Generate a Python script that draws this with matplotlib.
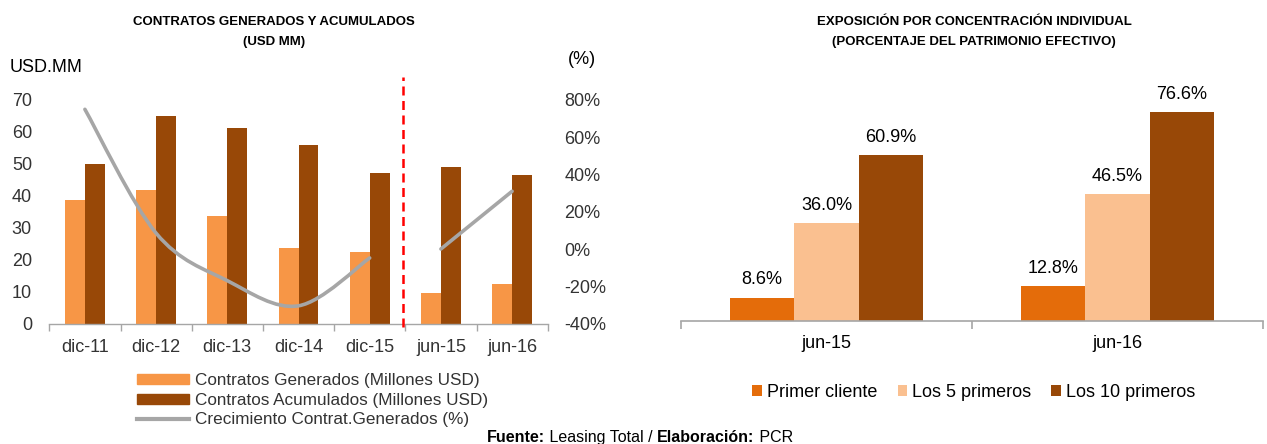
import matplotlib
matplotlib.use('Agg')
import matplotlib.pyplot as plt
from matplotlib.path import Path
from matplotlib.patches import PathPatch, Patch
from matplotlib.lines import Line2D
from matplotlib.ticker import FixedLocator, FuncFormatter

plt.rcParams['font.family'] = ['Liberation Sans', 'DejaVu Sans']

# left chart data
periods = ['dic-11', 'dic-12', 'dic-13', 'dic-14', 'dic-15', 'jun-15', 'jun-16']
generados = [38.6, 41.9, 33.8, 23.5, 22.3, 9.6, 12.4]
acumulados = [49.9, 65.1, 61.2, 55.8, 47.1, 49.1, 46.4]
crec_dic = [75.0, 8.5, -17.0, -30.5, -4.8]
crec_jun = [0.0, 31.0]

# right chart data
fechas = ['jun-15', 'jun-16']
primer_cliente = [8.6, 12.8]
cinco_primeros = [36.0, 46.5]
diez_primeros = [60.9, 76.6]

c_gen = '#F79646'
c_acu = '#984807'
c_line = '#A6A6A6'
c_axis = '#A6A6A6'
c_txt = '#333333'


def smooth_path(xs, ys):
    # excel-like smoothed line (cubic bezier through the points)
    pts = list(zip(xs, ys))
    n = len(pts)
    verts = [pts[0]]
    codes = [Path.MOVETO]
    for i in range(n - 1):
        p0 = pts[i - 1] if i > 0 else pts[i]
        p1, p2 = pts[i], pts[i + 1]
        p3 = pts[i + 2] if i + 2 < n else pts[i + 1]
        c1 = (p1[0] + (p2[0] - p0[0]) / 6, p1[1] + (p2[1] - p0[1]) / 6)
        c2 = (p2[0] - (p3[0] - p1[0]) / 6, p2[1] - (p3[1] - p1[1]) / 6)
        verts += [c1, c2, p2]
        codes += [Path.CURVE4] * 3
    return Path(verts, codes)


W, H = 1267, 444
fig = plt.figure(figsize=(W / 100, H / 100), dpi=100)

# ---------------- left chart ----------------
ax1 = fig.add_axes([49.3 / W, (H - 323.5) / H, (547.7 - 49.3) / W, 223.5 / H])
x = list(range(len(periods)))
bw = 0.28
ax1.bar([i - bw / 2 for i in x], generados, bw, color=c_gen, zorder=2)
ax1.bar([i + bw / 2 for i in x], acumulados, bw, color=c_acu, zorder=2)
ax1.set_xlim(-0.5, len(periods) - 0.5)
ax1.set_ylim(0, 70)
ax1.set_yticks(range(0, 71, 10))
ax1.set_xticks(x)
ax1.set_xticklabels(periods)
ax1.xaxis.set_minor_locator(FixedLocator([i - 0.5 for i in range(len(periods) + 1)]))
ax1.tick_params(axis='x', which='major', length=0, pad=11, labelsize=13, labelcolor=c_txt)
ax1.tick_params(axis='x', which='minor', length=5, color=c_axis, width=1)
ax1.tick_params(axis='y', length=0, pad=12.5, labelsize=13, labelcolor=c_txt)
for s in ['top', 'left', 'right']:
    ax1.spines[s].set_visible(False)
ax1.spines['bottom'].set_color(c_axis)
ax1.spines['bottom'].set_linewidth(1)

ax2 = ax1.twinx()
ax2.set_ylim(-40, 80)
ax2.set_yticks(range(-40, 81, 20))
ax2.yaxis.set_major_formatter(FuncFormatter(lambda v, p: f'{int(v)}%'))
ax2.tick_params(axis='y', length=0, pad=12, labelsize=13, labelcolor=c_txt)
for s in ax2.spines.values():
    s.set_visible(False)
ax2.add_patch(PathPatch(smooth_path(x[:5], crec_dic), fill=False, edgecolor=c_line,
                        lw=2.6, capstyle='round', zorder=3))
ax2.add_patch(PathPatch(smooth_path(x[5:], crec_jun), fill=False, edgecolor=c_line,
                        lw=2.6, capstyle='round', zorder=3))

# red dashed separator
ax1.plot([4.47, 4.47], [-0.014, 1.104], color='#FF0000', lw=1.8, ls=(0, (3.6, 2.2)),
         transform=ax1.get_xaxis_transform(), clip_on=False, zorder=4)

fig.text(10 / W, (H - 68) / H, 'USD.MM', fontsize=13, color='black', ha='left', va='center')
fig.text(582 / W, (H - 60) / H, '(%)', fontsize=13, color='black', ha='center', va='center')
fig.text(274 / W, (H - 16) / H, 'CONTRATOS GENERADOS Y ACUMULADOS\n(USD MM)', fontsize=9.5,
         fontweight='bold', ha='center', va='top', linespacing=1.85)

handles = [Patch(color=c_gen), Patch(color=c_acu), Line2D([], [], color=c_line, lw=3)]
labels = ['Contratos Generados (Millones USD)', 'Contratos Acumulados (Millones USD)',
          'Crecimiento Contrat.Generados (%)']
fig.legend(handles, labels, loc='upper left', bbox_to_anchor=(137 / W, (H - 373) / H),
           frameon=False, fontsize=12.3, handlelength=3.05, handleheight=0.53,
           handletextpad=0.33, labelspacing=0.27, borderpad=0, borderaxespad=0,
           labelcolor=c_txt)

# ---------------- right chart ----------------
ax3 = fig.add_axes([681 / W, (H - 321) / H, (1263 - 681) / W, 218.4 / H])
xr = list(range(len(fechas)))
bw2 = 0.222
series = [(primer_cliente, '#E46C0A', 'Primer cliente'),
          (cinco_primeros, '#FAC090', 'Los 5 primeros'),
          (diez_primeros, '#984807', 'Los 10 primeros')]
for k, (vals, col, lab) in enumerate(series):
    pos = [i + (k - 1) * bw2 for i in xr]
    bars = ax3.bar(pos, vals, bw2, color=col, label=lab, zorder=2)
    for b, v in zip(bars, vals):
        ax3.annotate(f'{v:.1f}%', (b.get_x() + b.get_width() / 2, v), xytext=(0, 6.5),
                     textcoords='offset points', ha='center', va='bottom', fontsize=13)
ax3.set_xlim(-0.5, len(fechas) - 0.5)
ax3.set_ylim(0, 80)
ax3.set_yticks([])
ax3.set_xticks(xr)
ax3.set_xticklabels(fechas)
ax3.xaxis.set_minor_locator(FixedLocator([-0.5, 0.5, 1.5]))
ax3.tick_params(axis='x', which='major', length=0, pad=10, labelsize=13)
ax3.tick_params(axis='x', which='minor', length=6, color=c_axis, width=1.2)
for s in ['top', 'left', 'right']:
    ax3.spines[s].set_visible(False)
ax3.spines['bottom'].set_color(c_axis)
ax3.spines['bottom'].set_linewidth(1.2)

fig.legend(*ax3.get_legend_handles_labels(), loc='center', ncol=3,
           bbox_to_anchor=(974 / W, (H - 392) / H), frameon=False, fontsize=13,
           handlelength=0.55, handleheight=0.55, handletextpad=0.28, columnspacing=1.1,
           borderpad=0, borderaxespad=0)

fig.text(974 / W, (H - 16) / H, 'EXPOSICIÓN POR CONCENTRACIÓN INDIVIDUAL\n(PORCENTAJE DEL PATRIMONIO EFECTIVO)',
         fontsize=9.5, fontweight='bold', ha='center', va='top', linespacing=1.85)

# ---------------- source line ----------------
renderer = fig.canvas.get_renderer()
parts = [('Fuente:', 'bold'), (' Leasing Total / ', 'normal'), ('Elaboración:', 'bold'), (' PCR', 'normal')]
xpos = 487
for txt, fw in parts:
    t = fig.text(xpos / W, (H - 437) / H, txt, fontsize=11.5, fontweight=fw, ha='left', va='center')
    xpos += t.get_window_extent(renderer).width

fig.savefig('out.png', dpi=100)
